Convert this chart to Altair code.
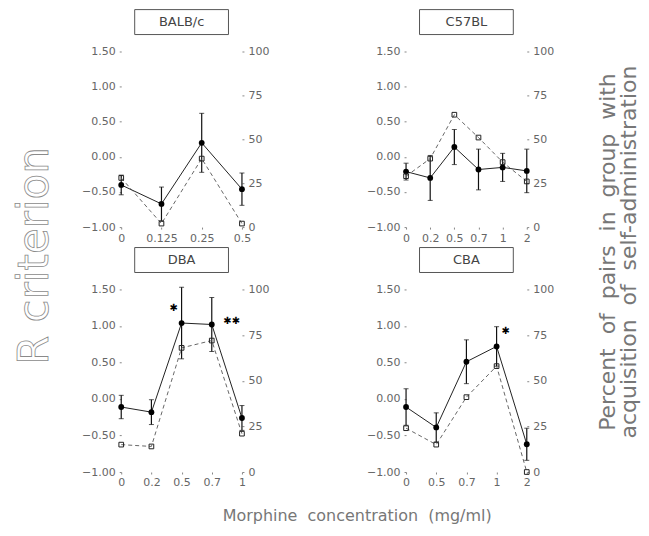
import altair as alt
import pandas as pd

# ---- data ----
strains = ["BALB/c", "C57BL", "DBA", "CBA"]

balb_conc = ["0", "0.125", "0.25", "0.5"]
balb_r = [-0.40, -0.67, 0.20, -0.46]
balb_err = [0.14, 0.24, 0.42, 0.23]
balb_pct = [28, 2, 39, 2]

c57_conc = ["0", "0.2", "0.5", "0.7", "1", "2"]
c57_r = [-0.21, -0.30, 0.14, -0.18, -0.15, -0.20]
c57_err = [0.12, 0.32, 0.25, 0.29, 0.20, 0.31]
c57_pct = [29, 39, 64, 51, 37, 26]

dba_conc = ["0", "0.2", "0.5", "0.7", "1"]
dba_r = [-0.11, -0.18, 1.04, 1.02, -0.26]
dba_err = [0.16, 0.17, 0.49, 0.37, 0.17]
dba_pct = [15, 14, 68, 72, 21]

cba_conc = ["0", "0.5", "0.7", "1", "2"]
cba_r = [-0.11, -0.39, 0.51, 0.72, -0.62]
cba_err = [0.25, 0.20, 0.30, 0.27, 0.22]
cba_pct = [24, 15, 41, 58, 0]

# significance marks
star_strain = ["DBA", "DBA", "CBA"]
star_conc = ["0.5", "0.7", "1"]
star_value = [1.24, 1.07, 0.93]
star_text = ["\u2731", "\u2731\u2731", "\u2731"]
star_dx = [-8, 20, 9]

r_ticks = [-1.0, -0.5, 0.0, 0.5, 1.0, 1.5]
pct_ticks = [0, 25, 50, 75, 100]

y_title = "R criterion"
NB = "\u00a0"
y2_title = ["Percent" + NB + " of" + NB + " pairs" + NB + " in" + NB + " group" + NB + " with",
            "acquisition" + NB + " of" + NB + " self-administration"]
x_title = "Morphine" + NB + " concentration" + NB + " (mg/ml)"

FONT = "DejaVu Sans"
W = 121


def panel(name, conc, r, err, pct, height, extras=()):
    df = pd.DataFrame({
        "conc": conc,
        "r": r,
        "lo": [a - b for a, b in zip(r, err)],
        "hi": [a + b for a, b in zip(r, err)],
        "pct": pct,
    })
    base = alt.Chart(df)
    xax = alt.Axis(title=None, labelAngle=0, domain=False, grid=False,
                   tickSize=2, labelPadding=3)
    x = alt.X("conc:N", sort=conc, scale=alt.Scale(type="point", padding=0), axis=xax)
    rscale = alt.Scale(domain=[-1, 1.5], nice=False, zero=False)
    rax = alt.Axis(title=None, values=r_ticks, format=".2f", domain=False,
                   grid=False, tickSize=2, labelPadding=4)
    pscale = alt.Scale(domain=[0, 100], nice=False, zero=False)
    pax = alt.Axis(title=None, orient="right", values=pct_ticks, domain=False,
                   grid=False, tickSize=2, labelPadding=4)

    line_r = base.mark_line(color="#222", strokeWidth=1).encode(
        x=x, y=alt.Y("r:Q", scale=rscale, axis=rax))
    bars = base.mark_rule(color="#111", strokeWidth=1.2).encode(
        x=x, y=alt.Y("lo:Q", scale=rscale, axis=rax), y2="hi:Q")
    cap_lo = base.mark_tick(color="#111", size=5, thickness=1).encode(
        x=x, y=alt.Y("lo:Q", scale=rscale, axis=rax))
    cap_hi = base.mark_tick(color="#111", size=5, thickness=1).encode(
        x=x, y=alt.Y("hi:Q", scale=rscale, axis=rax))
    pts = base.mark_point(shape="circle", filled=True, size=34, color="#000",
                          opacity=1).encode(
        x=x, y=alt.Y("r:Q", scale=rscale, axis=rax))
    left_layers = [line_r, bars, cap_lo, cap_hi, pts]

    for s, c, v, t, dx in zip(star_strain, star_conc, star_value, star_text, star_dx):
        if s == name:
            sdf = pd.DataFrame({"conc": [c], "r": [v], "t": [t]})
            left_layers.append(
                alt.Chart(sdf).mark_text(font=FONT, fontSize=10, color="#000",
                                         dx=dx, fontWeight="bold").encode(
                    x=x, y=alt.Y("r:Q", scale=rscale, axis=rax), text="t:N"))
    left = alt.layer(*left_layers)

    line_p = base.mark_line(color="#555", strokeWidth=0.9, strokeDash=[4, 3]).encode(
        x=x, y=alt.Y("pct:Q", scale=pscale, axis=pax))
    sq = base.mark_point(shape="square", filled=False, size=22, color="#222",
                         strokeWidth=1, opacity=1).encode(
        x=x, y=alt.Y("pct:Q", scale=pscale, axis=pax))
    right = alt.layer(line_p, sq)

    tdf = pd.DataFrame({"name": [name]})
    cx = W / 2
    box = alt.Chart(tdf).mark_rect(fillOpacity=0, stroke="#555", strokeWidth=1).encode(
        x=alt.value(cx - 47), x2=alt.value(cx + 47), y=alt.value(-42), y2=alt.value(-17))
    ttl = alt.Chart(tdf).mark_text(font=FONT, fontSize=13, color="#444",
                                   baseline="middle").encode(
        x=alt.value(cx), y=alt.value(-29.5), text="name:N")

    return alt.layer(left, right, box, ttl, *extras).resolve_scale(y="independent").properties(
        width=W, height=height)


# decorations (overall axis titles)
ytdf = pd.DataFrame({"t": [y_title]})
ytitle = alt.Chart(ytdf).mark_text(font=FONT, fontSize=42, angle=270, fillOpacity=0,
                                   stroke="#8a8a8a", strokeWidth=0.8,
                                   baseline="middle", align="center").encode(
    x=alt.value(-86.5), y=alt.value(205), text="t:N")

# invisible layout anchor fixing the top-left corner of the drawing
anchor = alt.Chart(ytdf).mark_rect(opacity=0).encode(
    x=alt.value(-125), x2=alt.value(-124), y=alt.value(-60), y2=alt.value(-59))

y2df = pd.DataFrame({"t": y2_title})
y2a = alt.Chart(y2df.iloc[[0]]).mark_text(font=FONT, fontSize=22, angle=270, color="#777",
                                          baseline="middle", align="center").encode(
    x=alt.value(202), y=alt.value(201), text="t:N")
y2b = alt.Chart(y2df.iloc[[1]]).mark_text(font=FONT, fontSize=22, angle=270, color="#777",
                                          baseline="middle", align="center").encode(
    x=alt.value(223.5), y=alt.value(201), text="t:N")

xtdf = pd.DataFrame({"t": [x_title]})
xtitle = alt.Chart(xtdf).mark_text(font=FONT, fontSize=16, color="#777",
                                   baseline="middle", align="center").encode(
    x=alt.value(236.5), y=alt.value(227), text="t:N")

p1 = panel(strains[0], balb_conc, balb_r, balb_err, balb_pct, 176, extras=(ytitle, anchor))
p2 = panel(strains[1], c57_conc, c57_r, c57_err, c57_pct, 176, extras=(y2a, y2b))
p3 = panel(strains[2], dba_conc, dba_r, dba_err, dba_pct, 183, extras=(xtitle,))
p4 = panel(strains[3], cba_conc, cba_r, cba_err, cba_pct, 183)

chart = alt.concat(p1, p2, p3, p4, columns=2, bounds="flush", align="each",
                   spacing={"row": 62.5, "column": 164.5}).properties(
    padding={"left": -12.5, "top": -18, "right": 0, "bottom": 0}, background="white"
).configure_view(stroke="transparent").configure_axis(
    labelFont=FONT, labelFontSize=11, labelColor="#666", tickColor="#888"
)

chart.save("out.html", embed_options={"renderer": "svg", "actions": False})
